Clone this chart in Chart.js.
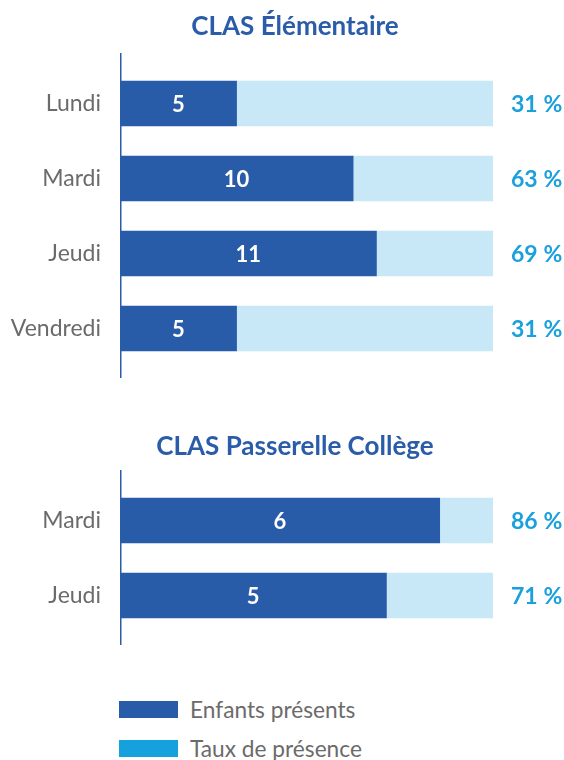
<!DOCTYPE html>
<html>
<head>
<meta charset="utf-8">
<script src="https://cdn.jsdelivr.net/npm/chart.js@4.4.1/dist/chart.umd.min.js"></script>
<style>
  html, body { margin:0; padding:0; background:#fff; }
  body { width:564px; height:760px; position:relative; overflow:hidden; font-family: Lato, "Noto Sans", sans-serif; }
  .box { position:absolute; left:0; width:564px; }
  #c1wrap { top:0; height:400px; }
  #c2wrap { top:400px; height:280px; }
  .leg { position:absolute; left:119px; height:17px; display:flex; align-items:center; }
  .sw { width:59px; height:17px; flex:none; }
  .lt { margin-left:12px; font-size:22.7px; color:#6b6b6b; white-space:nowrap; line-height:17px; }
</style>
</head>
<body>
<div class="box" id="c1wrap"><canvas id="c1" width="564" height="400"></canvas></div>
<div class="box" id="c2wrap"><canvas id="c2" width="564" height="280"></canvas></div>
<div class="leg" style="top:701px"><div class="sw" style="background:#285ca9"></div><div class="lt">Enfants présents</div></div>
<div class="leg" style="top:740px"><div class="sw" style="background:#14a1dd"></div><div class="lt">Taux de présence</div></div>
<script>
// Data
const titleElem = 'CLAS Élémentaire';
const categoriesElem = ['Lundi', 'Mardi', 'Jeudi', 'Vendredi'];
const enfantsElem = [5, 10, 11, 5];
const placesElem = [16, 16, 16, 16];
const tauxElem = [31, 63, 69, 31];

const titleColl = 'CLAS Passerelle Collège';
const categoriesColl = ['Mardi', 'Jeudi'];
const enfantsColl = [6, 5];
const placesColl = [7, 7];
const tauxColl = [86, 71];

const legendLabels = ['Enfants présents', 'Taux de présence'];

const DARK = '#285ca9';
const LIGHT = '#c8e8f8';
const PCT = '#1aa0dc';
const GRAY = '#6b6b6b';
const FONT = 'Lato, "Noto Sans", sans-serif';

const labelPlugin = {
  id: 'labelPlugin',
  afterDraw(chart, args, opts) {
    const ctx = chart.ctx;
    const area = chart.chartArea;
    ctx.save();
    // axis line
    ctx.strokeStyle = DARK;
    ctx.lineWidth = 1.5;
    ctx.beginPath();
    ctx.moveTo(area.left + 0.75, area.top - 13);
    ctx.lineTo(area.left + 0.75, area.bottom + 12);
    ctx.stroke();
    // title
    ctx.fillStyle = '#2a5caa';
    ctx.font = 'bold 26px ' + FONT;
    ctx.textAlign = 'center';
    ctx.textBaseline = 'middle';
    ctx.fillText(opts.title, 295, opts.titleY);
    // values
    const meta = chart.getDatasetMeta(0);
    const data = chart.data.datasets[0].data;
    meta.data.forEach((bar, i) => {
      ctx.fillStyle = '#ffffff';
      ctx.font = 'bold 22px ' + FONT;
      ctx.textAlign = 'center';
      ctx.fillText(String(data[i]), (bar.base + bar.x) / 2, bar.y + 1);
      ctx.fillStyle = PCT;
      ctx.font = 'bold 23px ' + FONT;
      ctx.textAlign = 'left';
      ctx.fillText(opts.rates[i] + '\u202F%', 511, bar.y + 1);
    });
    ctx.restore();
  }
};

function makeChart(id, cats, enfants, places, rates, title, titleY, padTop, padBottom) {
  return new Chart(document.getElementById(id), {
    type: 'bar',
    data: {
      labels: cats,
      datasets: [
        { label: legendLabels[0], data: enfants, backgroundColor: DARK, barThickness: 45, borderWidth: 0 },
        { label: legendLabels[1], data: enfants.map((v, i) => places[i] - v), backgroundColor: LIGHT, barThickness: 45, borderWidth: 0 }
      ]
    },
    options: {
      indexAxis: 'y',
      responsive: false,
      animation: false,
      devicePixelRatio: 1,
      layout: { padding: { top: padTop, bottom: padBottom, left: 0, right: 71 } },
      plugins: {
        legend: { display: false },
        tooltip: { enabled: false },
        title: { display: false },
        labelPlugin: { title: title, titleY: titleY, rates: rates }
      },
      scales: {
        x: { stacked: true, min: 0, max: Math.max(...places), display: false },
        y: {
          stacked: true,
          grid: { display: false, drawTicks: false },
          border: { display: false },
          ticks: { color: GRAY, font: { family: FONT, size: 23 }, padding: 19 },
          afterFit(scale) { scale.width = 120; }
        }
      }
    },
    plugins: [labelPlugin]
  });
}

makeChart('c1', categoriesElem, enfantsElem, placesElem, tauxElem, titleElem, 27, 66, 34);
makeChart('c2', categoriesColl, enfantsColl, placesColl, tauxColl, titleColl, 47, 83, 47);
</script>
</body>
</html>
